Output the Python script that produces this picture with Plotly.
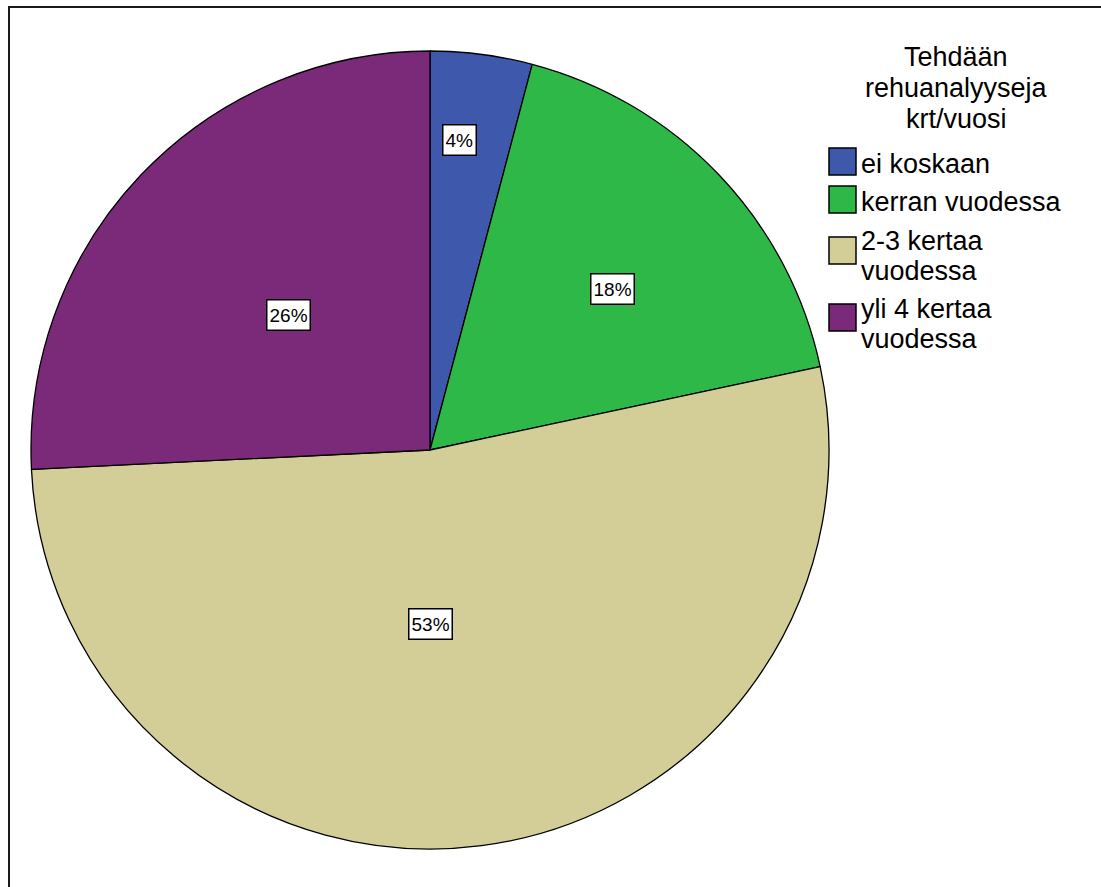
import math
import plotly.graph_objects as go

# ---- data ----
categories = ["ei koskaan", "kerran vuodessa", "2-3 kertaa<br>vuodessa", "yli 4 kertaa<br>vuodessa"]
counts = [4, 17, 51, 25]
pct_labels = ["4%", "18%", "53%", "26%"]
legend_title = "Tehdään<br>rehuanalyyseja<br>krt/vuosi"

# ---- style ----
colors = ["#3E58AC", "#2EB848", "#D3CE97", "#7B2A7A"]
label_radius_frac = [0.78, 0.61, 0.436, 0.49]
label_angle_frac = [0.37, 0.537, 0.539, 0.5]
FONT = "Liberation Sans, Arial, sans-serif"
W, H = 1101, 887
LEG_SIZE = 27
LINE_H = 30

# pie geometry (pixels) -> domain
cx_px, cy_px, R_px = 430, 450, 399
dom_x = [(cx_px - R_px) / W, (cx_px + R_px) / W]
dom_y = [1 - (cy_px + R_px) / H, 1 - (cy_px - R_px) / H]


def px2paper(x, y):
    return x / W, 1 - y / H


fig = go.Figure()
fig.add_trace(go.Pie(
    labels=categories,
    values=counts,
    sort=False,
    direction="clockwise",
    rotation=0,
    textinfo="none",
    hoverinfo="label+percent",
    marker=dict(colors=colors, line=dict(color="black", width=1.3)),
    domain=dict(x=dom_x, y=dom_y),
    showlegend=False,
))

annotations = []
shapes = []

# percentage labels in white boxes, placed inside their slices
total = sum(counts)
cum = 0
for v, lab, rf, af in zip(counts, pct_labels, label_radius_frac, label_angle_frac):
    ang = (cum + v * af) / total * 2 * math.pi
    cum += v
    r = rf * R_px
    ax, ay = px2paper(cx_px + r * math.sin(ang), cy_px - r * math.cos(ang))
    annotations.append(dict(
        x=ax, y=ay, xref="paper", yref="paper",
        text=lab, showarrow=False,
        font=dict(family=FONT, size=19, color="black"),
        bgcolor="white", bordercolor="black", borderwidth=1.5, borderpad=2,
        height=25,
        xanchor="center", yanchor="middle",
    ))

# custom legend: title lines
for i, line in enumerate(legend_title.split("<br>")):
    tx, ty = px2paper(956, 57 + i * 31)
    annotations.append(dict(
        x=tx, y=ty, xref="paper", yref="paper",
        text=line, showarrow=False,
        font=dict(family=FONT, size=LEG_SIZE, color="black"),
        xanchor="center", yanchor="middle",
    ))

sq_top = [148, 186, 237, 304]
text_first = [164, 202, 241, 309]
for name, col, top, t0 in zip(categories, colors, sq_top, text_first):
    x0, y0 = px2paper(829, top + 27)
    x1, y1 = px2paper(856, top)
    shapes.append(dict(
        type="rect", xref="paper", yref="paper",
        x0=x0, x1=x1, y0=y0, y1=y1,
        fillcolor=col, line=dict(color="black", width=1.5),
    ))
    for j, line in enumerate(name.split("<br>")):
        lx, ly = px2paper(859, t0 + j * LINE_H)
        annotations.append(dict(
            x=lx, y=ly, xref="paper", yref="paper",
            text=line, showarrow=False,
            font=dict(family=FONT, size=LEG_SIZE, color="black"),
            xanchor="left", yanchor="middle",
        ))

# outer frame (top & left edges)
fx0, fy0 = px2paper(8, 7)
lx_, _ = px2paper(9, 0)
shapes.append(dict(type="line", xref="paper", yref="paper",
                   x0=fx0, x1=1.0, y0=fy0, y1=fy0,
                   line=dict(color="#1a1a1a", width=2)))
shapes.append(dict(type="line", xref="paper", yref="paper",
                   x0=lx_, x1=lx_, y0=fy0, y1=0,
                   line=dict(color="#1a1a1a", width=2)))

fig.update_layout(
    width=W, height=H,
    margin=dict(l=0, r=0, t=0, b=0),
    paper_bgcolor="white", plot_bgcolor="white",
    annotations=annotations, shapes=shapes,
    showlegend=False,
)

fig.write_html("out.html",
               config={"displayModeBar": False},
               post_script="document.body.style.margin='0';document.body.style.overflow='hidden';")
